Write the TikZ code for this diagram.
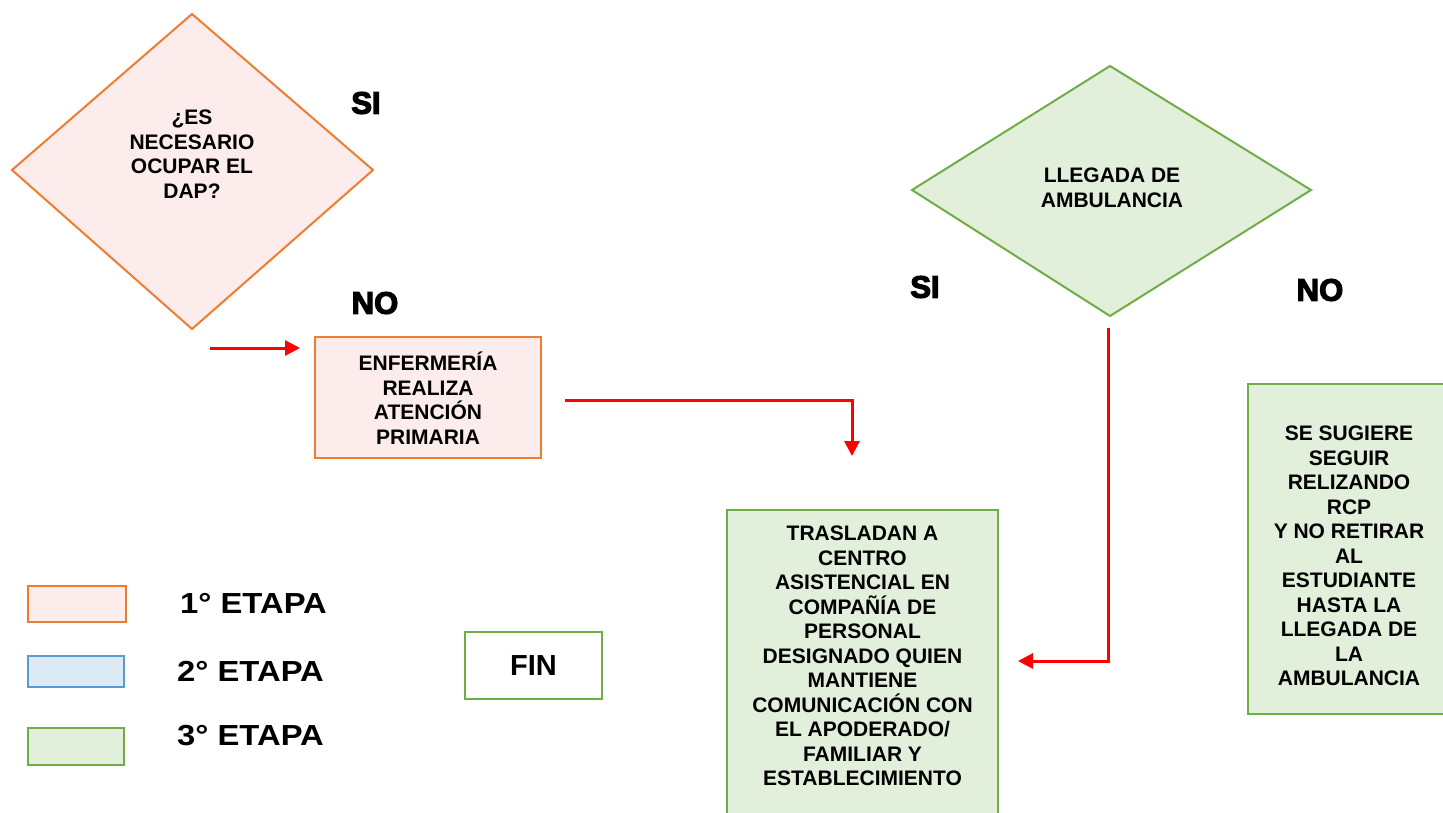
\documentclass[tikz,border=0pt]{standalone}
\usepackage{fontspec}
\setmainfont{Liberation Sans}
\newfontfamily\heavyfont[FakeBold=4]{Liberation Sans Bold}
\usetikzlibrary{arrows.meta}
\definecolor{orng}{HTML}{ED7D31}
\definecolor{pinkf}{HTML}{FDECEC}
\definecolor{grn}{HTML}{70AD47}
\definecolor{grnf}{HTML}{E2EFDA}
\definecolor{blu}{HTML}{5B9BD5}
\definecolor{bluf}{HTML}{DDEBF7}
\definecolor{redc}{HTML}{FF0000}
\tikzset{
  x=1pt,y=-1pt,
  txt/.style={font=\bfseries\fontsize{21}{24.5}\selectfont, align=center, inner sep=0pt},
  yesno/.style={font=\heavyfont\fontsize{31}{32}\selectfont, inner sep=0pt},
  leg/.style={font=\bfseries\fontsize{29}{30}\selectfont, inner sep=0pt, anchor=west},
  stage1/.style={draw=orng, fill=pinkf, line width=2pt},
  stage2/.style={draw=blu, fill=bluf, line width=2pt},
  stage3/.style={draw=grn, fill=grnf, line width=2pt},
  conn/.style={draw=redc, line width=3pt, -{Triangle[length=15pt,width=15pt]}},
}
\begin{document}
\begin{tikzpicture}
\useasboundingbox[fill=white] (0,0) rectangle (1443,812);
% diamond 1
\draw[stage1, line join=miter] (12,170) -- (192,14) -- (373,170) -- (192,329) -- cycle;
\node[txt] (q1) at (192,154) {¿ES\\NECESARIO\\OCUPAR EL\\DAP?};
\node[yesno] (si1) at (366,103) {SI};
\node[yesno] (no1) at (375,303) {NO};
% enfermeria box
\node[stage1, minimum width=226pt, minimum height=121pt, inner sep=0pt] (enf) at (428,397.5) {};
\node[txt] (enft) at (428,398) {ENFERMERÍA\\REALIZA\\ATENCIÓN\\PRIMARIA};
% arrows
\coordinate (a1s) at (210,348);
\coordinate (a1e) at (300,348);
\draw[conn] (a1s) -- (a1e);
\coordinate (a2s) at (565,400);
\coordinate (a2e) at (852,456);
\draw[conn] (a2s) -| (a2e);
% diamond 2
\draw[stage3, line join=miter] (912,190) -- (1110,66) -- (1311,190) -- (1110,316) -- cycle;
\node[txt] (q2) at (1112,188) {LLEGADA DE\\AMBULANCIA};
\node[yesno] (si2) at (925,287) {SI};
\node[yesno] (no2) at (1320,290) {NO};
% trasladan box
\draw[stage3] (727,510) rectangle (998,830);
\node[txt] (tras) at (862.5,656) {TRASLADAN A\\CENTRO\\ASISTENCIAL EN\\COMPAÑÍA DE\\PERSONAL\\DESIGNADO QUIEN\\MANTIENE\\COMUNICACIÓN CON\\EL APODERADO/\\FAMILIAR Y\\ESTABLECIMIENTO};
\coordinate (a3s) at (1108,328);
\coordinate (a3e) at (1018,661);
\draw[conn] (a3s) |- (a3e);
% se sugiere box
\draw[stage3] (1248,384) rectangle (1460,714);
\node[txt] (sug) at (1349,556) {SE SUGIERE\\SEGUIR\\RELIZANDO\\RCP\\Y NO RETIRAR\\AL\\ESTUDIANTE\\HASTA LA\\LLEGADA DE\\LA\\AMBULANCIA};
% legend
\node[stage1, minimum width=98pt, minimum height=36pt, inner sep=0pt] (l1) at (77,604) {};
\node[stage2, minimum width=96pt, minimum height=31pt, inner sep=0pt] (l2) at (76,671.5) {};
\node[stage3, minimum width=96pt, minimum height=37pt, inner sep=0pt] (l3) at (76,746.5) {};
\node[leg] (l1t) at (180,603) {\scalebox{1.13}[1]{1° ETAPA}};
\node[leg] (l2t) at (177,671) {\scalebox{1.13}[1]{2° ETAPA}};
\node[leg] (l3t) at (177,736) {\scalebox{1.13}[1]{3° ETAPA}};
% fin
\node[draw=grn, fill=white, line width=2pt, minimum width=137pt, minimum height=67pt, inner sep=0pt, font=\bfseries\fontsize{29}{30}\selectfont] (fin) at (533.5,665.5) {FIN};
\end{tikzpicture}
\end{document}
